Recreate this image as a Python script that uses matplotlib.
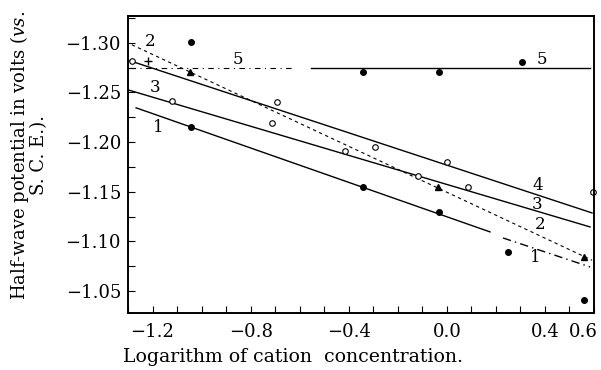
import matplotlib
matplotlib.use("Agg")
import matplotlib.pyplot as plt
import matplotlib.transforms as mtransforms
from matplotlib.ticker import MultipleLocator, FixedLocator, FixedFormatter

plt.rcParams['font.family'] = ['DejaVu Serif', 'Liberation Serif']
plt.rcParams['mathtext.fontset'] = 'custom'
plt.rcParams['mathtext.it'] = 'DejaVu Serif:italic'
plt.rcParams['mathtext.rm'] = 'DejaVu Serif'

# ---- data ----
# straight lines (end points)
line1_x = [-1.267, 0.176]
line1_y = [-1.2345, -1.1095]
line1b_x = [0.229, 0.584]
line1b_y = [-1.1034, -1.0742]
line2_x = [-1.284, 0.592]
line2_y = [-1.298, -1.081]
line3_x = [-1.300, 0.584]
line3_y = [-1.2526, -1.1145]
line4_x = [-1.292, 0.592]
line4_y = [-1.2819, -1.1286]
line5a_x = [-1.292, -0.627]
line5a_y = [-1.2748, -1.2748]
line5b_x = [-0.554, 0.584]
line5b_y = [-1.2748, -1.2748]

# measured points
s1_x = [-1.043, -0.342, -0.032, 0.249, 0.559]
s1_y = [-1.215, -1.155, -1.130, -1.089, -1.041]
s5_x = [-1.043, -0.342, -0.032, 0.306]
s5_y = [-1.301, -1.271, -1.271, -1.281]
tri_x = [-1.047, -0.036, 0.559]
tri_y = [-1.271, -1.155, -1.084]
open_x = [-1.284, -1.121, -0.693, -0.713, -0.415, -0.293, -0.118, 0.000, 0.086, 0.595]
open_y = [-1.282, -1.241, -1.240, -1.219, -1.191, -1.195, -1.166, -1.180, -1.155, -1.150]
plus_x = [-1.219]
plus_y = [-1.282]

xtick_vals = [-1.2, -0.8, -0.4, 0.0, 0.4, 0.6]
xtick_labels = ['\u22121.2', '\u22120.8', '\u22120.4', '0.0', '0.4', '0.6']
ytick_vals = [-1.30, -1.25, -1.20, -1.15, -1.10, -1.05]
ytick_labels = ['\u22121.30', '\u22121.25', '\u22121.20', '\u22121.15', '\u22121.10', '\u22121.05']

labels = ['1', '2', '3', '4', '5']

fig = plt.figure(figsize=(6.01, 3.70), dpi=100)
ax = fig.add_axes([128/601, 1-313/370, (594-128)/601, (313-16)/370])

lw = 1.0
ax.plot(line1_x, line1_y, color='black', lw=lw)
ax.plot(line1b_x, line1b_y, color='black', lw=lw, ls=(0, (6, 3, 1, 3)))
ax.plot(line2_x, line2_y, color='black', lw=0.8, ls=(0, (3, 3)))
ax.plot(line3_x, line3_y, color='black', lw=lw)
ax.plot(line4_x, line4_y, color='black', lw=lw)
ax.plot(line5a_x, line5a_y, color='black', lw=0.8, ls=(0, (5, 4, 1, 4)))
ax.plot(line5b_x, line5b_y, color='black', lw=lw)

ms = 4
ax.plot(s1_x, s1_y, 'o', color='black', ms=ms, clip_on=False)
ax.plot(s5_x, s5_y, 'o', color='black', ms=ms, clip_on=False)
ax.plot(tri_x, tri_y, '^', color='black', ms=ms+0.5, clip_on=False)
ax.plot(open_x, open_y, 'o', mfc='white', mec='black', mew=0.8, ms=ms, clip_on=False)
ax.plot(plus_x, plus_y, '+', color='black', ms=6, mew=1.0)

fs_lab = 12
ax.text(-1.178, -1.2143, labels[0], fontsize=fs_lab, ha='center', va='center')
ax.text(0.360, -1.0833, labels[0], fontsize=fs_lab, ha='center', va='center')
ax.text(-1.210, -1.301, labels[1], fontsize=fs_lab, ha='center', va='center')
ax.text(0.380, -1.1165, labels[1], fontsize=fs_lab, ha='center', va='center')
ax.text(-1.190, -1.2546, labels[2], fontsize=fs_lab, ha='center', va='center')
ax.text(0.368, -1.1367, labels[2], fontsize=fs_lab, ha='center', va='center')
ax.text(0.372, -1.1558, labels[3], fontsize=fs_lab, ha='center', va='center')
ax.text(-0.852, -1.2829, labels[4], fontsize=fs_lab, ha='center', va='center')
ax.text(0.388, -1.2829, labels[4], fontsize=fs_lab, ha='center', va='center')

ax.set_xlim(-1.30, 0.60)
ax.set_ylim(-1.0278, -1.327)

ax.xaxis.set_major_locator(FixedLocator(xtick_vals))
ax.xaxis.set_major_formatter(FixedFormatter(xtick_labels))
ax.xaxis.set_minor_locator(MultipleLocator(0.1))
ax.yaxis.set_major_locator(FixedLocator(ytick_vals))
ax.yaxis.set_major_formatter(FixedFormatter(ytick_labels))
ax.yaxis.set_minor_locator(MultipleLocator(0.025))

ax.tick_params(which='both', direction='in', length=5, width=0.8, labelsize=13)
ax.tick_params(axis='y', pad=5)
ax.tick_params(axis='x', pad=7)
for sp in ax.spines.values():
    sp.set_linewidth(1.4)

# shift the crowded last x label a little to the left, as in the reference
fig.canvas.draw()
last = ax.get_xticklabels()[-1]
last.set_transform(last.get_transform() + mtransforms.ScaledTranslation(-11/100, 0, fig.dpi_scale_trans))

fig.text(123/601, 13/370, 'Logarithm of cation  concentration.', fontsize=13.6,
         ha='left', va='center')
fig.text(28/601, 1-155/370, 'Half-wave potential in volts ($\\it{vs.}$\nS. C. E.).',
         rotation=90, ha='center', va='center', fontsize=13, linespacing=0.9,
         multialignment='center')

fig.savefig('out.png', dpi=100)
